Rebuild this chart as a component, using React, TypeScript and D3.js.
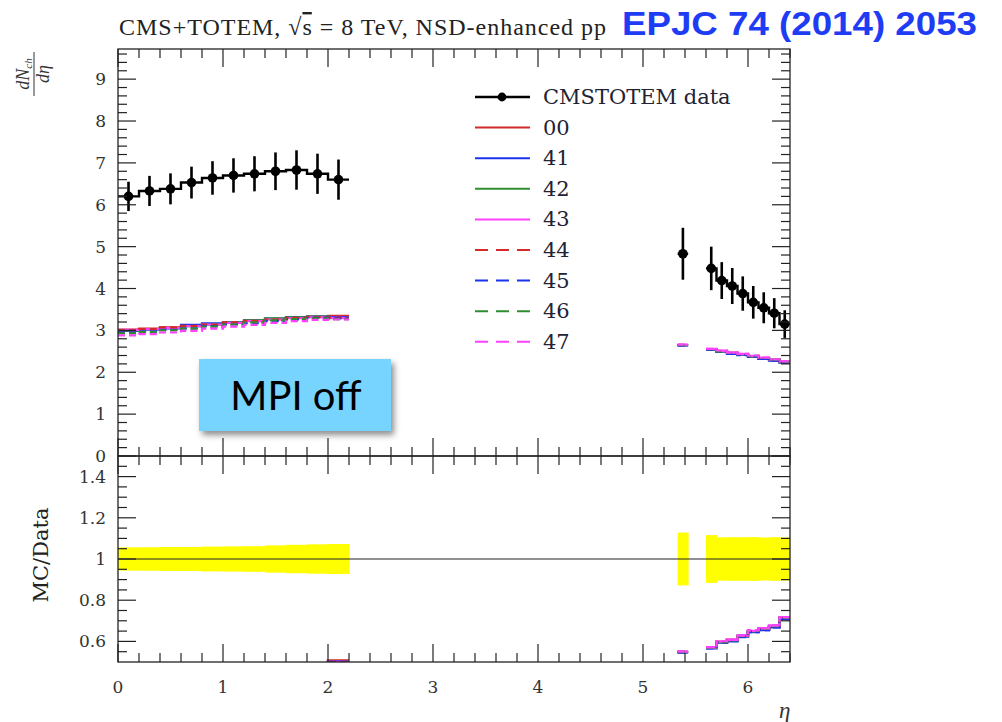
import React from "react";
import * as d3 from "d3";

// Pseudorapidity bins of the measurement (central CMS region and forward TOTEM T2 region)
const leftEdges = [0, 0.2, 0.4, 0.6, 0.8, 1.0, 1.2, 1.4, 1.6, 1.8, 2.0, 2.2];
const fwdSingleEdges = [5.33, 5.43];
const fwdEdges = [5.6, 5.7, 5.8, 5.9, 6.0, 6.1, 6.2, 6.3, 6.4];

// CMS+TOTEM dN/deta values and uncertainties
const leftData = [6.2, 6.33, 6.38, 6.53, 6.64, 6.7, 6.74, 6.8, 6.83, 6.74, 6.6];
const leftErr = [0.35, 0.36, 0.37, 0.38, 0.4, 0.41, 0.42, 0.45, 0.47, 0.48, 0.48];
const fwdSingleData = [4.83];
const fwdSingleErr = [0.62];
const fwdData = [4.48, 4.19, 4.06, 3.88, 3.67, 3.54, 3.41, 3.15];
const fwdErr = [0.52, 0.44, 0.43, 0.41, 0.39, 0.37, 0.36, 0.33];

// MC tunes (MPI switched off): central bins, single forward bin, forward bins
const seriesNames = ["00", "41", "42", "43", "44", "45", "46", "47"];
const seriesColors = ["#d42a2a", "#1a33ee", "#2f8f2f", "#ff40ff", "#d42a2a", "#1a33ee", "#2f8f2f", "#ff40ff"];
const seriesDashed = [false, false, false, false, true, true, true, true];

const mc00 = [3.02, 3.04, 3.07, 3.11, 3.15, 3.19, 3.23, 3.27, 3.3, 3.33, 3.35];
const mc41 = [2.99, 3.02, 3.05, 3.13, 3.17, 3.2, 3.24, 3.28, 3.32, 3.33, 3.32];
const mc42 = [3.0, 3.03, 3.06, 3.1, 3.14, 3.19, 3.24, 3.29, 3.31, 3.33, 3.29];
const mc43 = [3.01, 3.03, 3.06, 3.1, 3.14, 3.18, 3.22, 3.26, 3.29, 3.31, 3.3];
const mc44 = [3.0, 3.03, 3.07, 3.11, 3.14, 3.19, 3.23, 3.26, 3.3, 3.32, 3.3];
const mc45 = [2.95, 2.97, 3.01, 3.05, 3.1, 3.14, 3.17, 3.22, 3.26, 3.3, 3.28];
const mc46 = [2.93, 2.96, 3.0, 3.04, 3.09, 3.14, 3.19, 3.24, 3.27, 3.29, 3.27];
const mc47 = [2.88, 2.91, 2.95, 2.99, 3.04, 3.09, 3.13, 3.18, 3.22, 3.25, 3.26];

const mc00Single = [2.65];
const mc41Single = [2.64];
const mc42Single = [2.65];
const mc43Single = [2.66];
const mc44Single = [2.65];
const mc45Single = [2.64];
const mc46Single = [2.65];
const mc47Single = [2.66];

const mc00Fwd = [2.55, 2.51, 2.47, 2.43, 2.38, 2.33, 2.29, 2.24];
const mc41Fwd = [2.54, 2.49, 2.44, 2.42, 2.37, 2.32, 2.28, 2.23];
const mc42Fwd = [2.55, 2.5, 2.46, 2.43, 2.38, 2.34, 2.3, 2.25];
const mc43Fwd = [2.56, 2.51, 2.47, 2.44, 2.39, 2.35, 2.31, 2.26];
const mc44Fwd = [2.55, 2.5, 2.46, 2.42, 2.38, 2.33, 2.29, 2.24];
const mc45Fwd = [2.54, 2.49, 2.45, 2.41, 2.37, 2.32, 2.28, 2.23];
const mc46Fwd = [2.55, 2.5, 2.46, 2.43, 2.39, 2.34, 2.3, 2.25];
const mc47Fwd = [2.56, 2.52, 2.47, 2.44, 2.4, 2.35, 2.31, 2.26];

const mcLeft = [mc00, mc41, mc42, mc43, mc44, mc45, mc46, mc47];
const mcSingle = [mc00Single, mc41Single, mc42Single, mc43Single, mc44Single, mc45Single, mc46Single, mc47Single];
const mcFwd = [mc00Fwd, mc41Fwd, mc42Fwd, mc43Fwd, mc44Fwd, mc45Fwd, mc46Fwd, mc47Fwd];

// Axis ticks
const xTicks = [0, 1, 2, 3, 4, 5, 6];
const yTicks = [0, 1, 2, 3, 4, 5, 6, 7, 8, 9];
const ratioTicks = [0.6, 0.8, 1, 1.2, 1.4];

const W = 1002;
const H = 722;
const X0 = 118;
const X1 = 790;
const TOP = 49;
const MID = 456;
const BOT = 662;

const x = d3.scaleLinear().domain([0, 6.4]).range([X0, X1]);
const y = d3.scaleLinear().domain([0, 9.72]).range([MID, TOP]);
const yr = d3.scaleLinear().domain([0.5, 1.5]).range([BOT, MID]);

type Group = { edges: number[]; values: number[] };

const groupsOf = (l: number[], s: number[], f: number[]): Group[] => [
  { edges: leftEdges, values: l },
  { edges: fwdSingleEdges, values: s },
  { edges: fwdEdges, values: f },
];

const dataGroups = groupsOf(leftData, fwdSingleData, fwdData);
const errGroups = groupsOf(leftErr, fwdSingleErr, fwdErr);

const stepLine = d3
  .line<[number, number]>()
  .x((d) => d[0])
  .y((d) => d[1]);

function stepPath(g: Group, ys: d3.ScaleLinear<number, number>, transform?: (v: number, i: number) => number) {
  const pts: [number, number][] = [];
  g.values.forEach((v, i) => {
    const val = transform ? transform(v, i) : v;
    pts.push([x(g.edges[i]), ys(val)]);
    pts.push([x(g.edges[i + 1]), ys(val)]);
  });
  return stepLine(pts) || "";
}

const serif = "'Liberation Serif', 'DejaVu Serif', serif";
const wideSerif = "'DejaVu Serif', 'Liberation Serif', serif";
const MAJ = 18;
const MIN = 9;

function Ticks() {
  const xMinor = d3.range(0, 6.41, 0.2).filter((v) => Math.abs(v - Math.round(v)) > 1e-6);
  const lines: [number, number, number, number][] = [];
  // x ticks on both panels, top and bottom edges
  const xEdge = (v: number, len: number) => {
    const px = x(v);
    lines.push([px, TOP, px, TOP + len]);
    lines.push([px, MID, px, MID - len]);
    lines.push([px, MID, px, MID + len]);
    lines.push([px, BOT, px, BOT - len]);
  };
  xTicks.forEach((v) => xEdge(v, MAJ));
  xMinor.forEach((v) => xEdge(v, MIN));
  // y ticks on main panel
  const yMinor = d3.range(0, 9.71, 0.2).filter((v) => Math.abs(v - Math.round(v)) > 1e-6);
  const yEdge = (v: number, len: number) => {
    const py = y(v);
    lines.push([X0, py, X0 + len, py]);
    lines.push([X1, py, X1 - len, py]);
  };
  yTicks.forEach((v) => yEdge(v, MAJ));
  yMinor.forEach((v) => yEdge(v, MIN));
  // y ticks on ratio panel
  const rMinor = d3.range(0.55, 1.5, 0.05).filter((v) => Math.abs(v * 5 - Math.round(v * 5)) > 1e-6);
  const rEdge = (v: number, len: number) => {
    const py = yr(v);
    lines.push([X0, py, X0 + len, py]);
    lines.push([X1, py, X1 - len, py]);
  };
  ratioTicks.forEach((v) => rEdge(v, MAJ));
  rMinor.forEach((v) => rEdge(v, MIN));
  return (
    <g>
      {lines.map((l, i) => (
        <line key={i} x1={l[0]} y1={l[1]} x2={l[2]} y2={l[3]} stroke="#222" strokeWidth={1.2} />
      ))}
    </g>
  );
}

export default function App() {
  const legendY0 = 97;
  const legendDy = 30.6;
  return (
    <svg width={W} height={H} style={{ display: "block", position: "absolute", left: 0, top: 0, background: "#fff" }}>
      <defs>
        <clipPath id="ratioClip">
          <rect x={X0} y={MID} width={X1 - X0} height={BOT - MID} />
        </clipPath>
        <filter id="boxShadow" x="-10%" y="-20%" width="130%" height="150%">
          <feDropShadow dx="3" dy="4" stdDeviation="3" floodColor="#000" floodOpacity="0.45" />
        </filter>
      </defs>
      <rect x={0} y={0} width={W} height={H} fill="#fff" />

      {/* title */}
      <text x={119} y={35} fontFamily={serif} fontSize={24} fill="#222" textLength={487} lengthAdjust="spacing">
        CMS+TOTEM, √<tspan textDecoration="overline">s</tspan> = 8 TeV, NSD-enhanced pp
      </text>
      <text
        x={622}
        y={35}
        fontFamily="'Liberation Sans', Arial, sans-serif"
        fontWeight="bold"
        fontSize={33}
        fill="#1f3cf5"
        textLength={355}
        lengthAdjust="spacingAndGlyphs"
      >
        EPJC 74 (2014) 2053
      </text>

      {/* ratio band, unity line and MC/data ratios */}
      <g clipPath="url(#ratioClip)">
        {dataGroups.map((g, gi) =>
          g.values.map((v, i) => {
            const rel = errGroups[gi].values[i] / v;
            return (
              <rect
                key={`b${gi}-${i}`}
                x={x(g.edges[i])}
                width={x(g.edges[i + 1]) - x(g.edges[i]) + 0.5}
                y={yr(1 + rel)}
                height={yr(1 - rel) - yr(1 + rel)}
                fill="#ffff00"
              />
            );
          })
        )}
        <line x1={X0} x2={X1} y1={yr(1)} y2={yr(1)} stroke="#222" strokeWidth={1.2} />
        {seriesNames.map((name, si) =>
          groupsOf(mcLeft[si], mcSingle[si], mcFwd[si]).map((g, gi) => (
            <path
              key={`r${name}-${gi}`}
              d={stepPath(g, yr, (v, i) => v / dataGroups[gi].values[i])}
              fill="none"
              stroke={seriesColors[si]}
              strokeWidth={2.4}
              strokeDasharray={seriesDashed[si] ? "7,4" : undefined}
            />
          ))
        )}
      </g>

      {/* MC predictions, main panel */}
      {seriesNames.map((name, si) =>
        groupsOf(mcLeft[si], mcSingle[si], mcFwd[si]).map((g, gi) => (
          <path
            key={`m${name}-${gi}`}
            d={stepPath(g, y)}
            fill="none"
            stroke={seriesColors[si]}
            strokeWidth={2.2}
            strokeDasharray={seriesDashed[si] ? "7,4" : undefined}
          />
        ))
      )}

      {/* data */}
      {dataGroups.map((g, gi) => (
        <g key={`d${gi}`}>
          <path d={stepPath(g, y)} fill="none" stroke="#000" strokeWidth={2.4} />
          {g.values.map((v, i) => {
            const c = (g.edges[i] + g.edges[i + 1]) / 2;
            const e = errGroups[gi].values[i];
            return (
              <g key={i}>
                <line x1={x(c)} x2={x(c)} y1={y(v - e)} y2={y(v + e)} stroke="#000" strokeWidth={2.6} />
                <circle cx={x(c)} cy={y(v)} r={4.8} fill="#000" />
              </g>
            );
          })}
        </g>
      ))}

      {/* frames */}
      <rect x={X0} y={TOP} width={X1 - X0} height={MID - TOP} fill="none" stroke="#222" strokeWidth={1.3} />
      <rect x={X0} y={MID} width={X1 - X0} height={BOT - MID} fill="none" stroke="#222" strokeWidth={1.3} />
      <Ticks />

      {/* tick labels */}
      <g fontFamily={wideSerif} fontSize={17} fill="#333" style={{ fontVariantNumeric: "oldstyle-nums" }}>
        {yTicks.map((t) => (
          <text key={`yl${t}`} x={106} y={y(t) + 6} textAnchor="end">
            {t}
          </text>
        ))}
        {ratioTicks.map((t) => (
          <text key={`rl${t}`} x={106} y={yr(t) + 6} textAnchor="end">
            {t}
          </text>
        ))}
        {xTicks.map((t) => (
          <text key={`xl${t}`} x={x(t)} y={693} textAnchor="middle">
            {t}
          </text>
        ))}
      </g>

      {/* axis titles */}
      <text x={779} y={718} fontFamily={serif} fontStyle="italic" fontSize={23} fill="#333">
        η
      </text>
      <text
        transform={`translate(48,${yr(1) - 4}) rotate(-90)`}
        textAnchor="middle"
        fontFamily={wideSerif}
        fontSize={21}
        fill="#222"
      >
        MC/Data
      </text>
      <g transform="translate(34,74) rotate(-90)" fontFamily={serif} fontStyle="italic" fill="#333">
        <text x={0} y={-5} textAnchor="middle" fontSize={18}>
          dN<tspan fontSize={11} dy={3}>ch</tspan>
        </text>
        <line x1={-22} x2={22} y1={0} y2={0} stroke="#333" strokeWidth={1} />
        <text x={0} y={15} textAnchor="middle" fontSize={18}>
          dη
        </text>
      </g>

      {/* legend */}
      <g fontFamily={wideSerif} fontSize={21} fill="#223">
        <line x1={475} x2={530} y1={legendY0} y2={legendY0} stroke="#000" strokeWidth={2.4} />
        <circle cx={502} cy={legendY0} r={4.4} fill="#000" />
        <text x={543} y={legendY0 + 7}>CMSTOTEM data</text>
        {seriesNames.map((name, si) => {
          const ly = legendY0 + legendDy * (si + 1);
          return (
            <g key={`lg${name}`}>
              <line
                x1={475}
                x2={530}
                y1={ly}
                y2={ly}
                stroke={seriesColors[si]}
                strokeWidth={2}
                strokeDasharray={seriesDashed[si] ? "13,8" : undefined}
              />
              <text x={543} y={ly + 7} style={{ fontVariantNumeric: "oldstyle-nums" }}>
                {name}
              </text>
            </g>
          );
        })}
      </g>

      {/* annotation box */}
      <g filter="url(#boxShadow)">
        <rect x={199} y={359} width={192} height={72} fill="#76d4fe" />
      </g>
      <text x={296} y={410} textAnchor="middle" fontFamily="Lato, 'Open Sans', sans-serif" fontSize={40} fill="#000">
        MPI off
      </text>
    </svg>
  );
}
